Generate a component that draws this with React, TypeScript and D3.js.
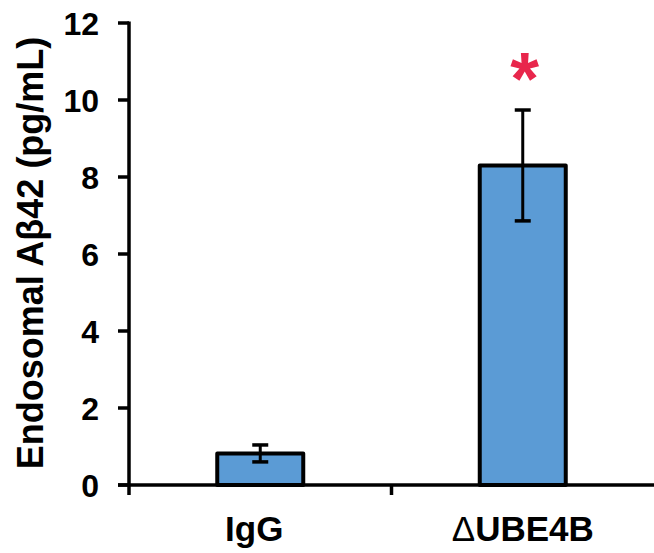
import React, { useEffect, useRef } from 'react';
import * as d3 from 'd3';

const categories = ['IgG', 'UBE4B'];
const means = [0.82, 8.3];
const errors = [0.22, 1.44];
const yTicks = [0, 2, 4, 6, 8, 10, 12];
const significant = [false, true];

const W = 654, H = 553;
const FONT = '"Liberation Sans", Arial, sans-serif';

export default function App() {
  const ref = useRef<SVGSVGElement>(null);

  useEffect(() => {
    const svg = d3.select(ref.current);
    svg.selectAll('*').remove();

    const x0 = 129, x1 = 654;
    const y0 = 485, y1 = 23;

    const x = d3.scaleBand().domain(categories).range([x0, x1]);
    const y = d3.scaleLinear().domain([0, 12]).range([y0, y1]);
    const barW = 86;
    const g = svg.append('g');

    // bars
    g.selectAll('rect.bar')
      .data(categories)
      .join('rect')
      .attr('class', 'bar')
      .attr('x', d => x(d)! + x.bandwidth() / 2 - barW / 2)
      .attr('y', (d, i) => y(means[i]))
      .attr('width', barW)
      .attr('height', (d, i) => y(0) - y(means[i]))
      .attr('fill', '#5b9bd5')
      .attr('stroke', '#000')
      .attr('stroke-width', 4)
      .attr('stroke-linejoin', 'round');

    // error bars
    categories.forEach((c, i) => {
      const cx = x(c)! + x.bandwidth() / 2;
      const lo = y(means[i] - errors[i]);
      const hi = y(means[i] + errors[i]);
      g.append('line').attr('x1', cx).attr('x2', cx).attr('y1', lo).attr('y2', hi)
        .attr('stroke', '#000').attr('stroke-width', 3);
      [lo, hi].forEach(yy => {
        g.append('line').attr('x1', cx - 8).attr('x2', cx + 8).attr('y1', yy).attr('y2', yy)
          .attr('stroke', '#000').attr('stroke-width', 3.5);
      });
      if (significant[i]) {
        g.append('text')
          .attr('x', cx + 2)
          .attr('y', hi - 6)
          .attr('text-anchor', 'middle')
          .attr('font-family', FONT)
          .attr('font-weight', 'bold')
          .attr('font-size', 74)
          .attr('fill', '#e8264c')
          .text('*');
      }
    });

    // y axis
    g.append('line').attr('x1', x0).attr('x2', x0).attr('y1', y1 - 1.5).attr('y2', y0 + 10)
      .attr('stroke', '#000').attr('stroke-width', 3.5);
    g.selectAll('line.ytick')
      .data(yTicks)
      .join('line')
      .attr('class', 'ytick')
      .attr('x1', x0 - 11).attr('x2', x0)
      .attr('y1', d => y(d)).attr('y2', d => y(d))
      .attr('stroke', '#000').attr('stroke-width', 3.5);
    g.selectAll('text.ylab')
      .data(yTicks)
      .join('text')
      .attr('class', 'ylab')
      .attr('x', 99)
      .attr('y', d => y(d))
      .attr('dy', '0.36em')
      .attr('text-anchor', 'end')
      .attr('font-family', FONT)
      .attr('font-weight', 'bold')
      .attr('font-size', 32)
      .text(d => d);

    // x axis
    g.append('line').attr('x1', x0 - 11).attr('x2', x1).attr('y1', y0).attr('y2', y0)
      .attr('stroke', '#000').attr('stroke-width', 3.5);
    g.append('line')
      .attr('x1', x(categories[1])!).attr('x2', x(categories[1])!)
      .attr('y1', y0).attr('y2', y0 + 10)
      .attr('stroke', '#000').attr('stroke-width', 3.5);

    // x labels
    const xl = g.selectAll('text.xlab')
      .data(categories)
      .join('text')
      .attr('class', 'xlab')
      .attr('x', d => x(d)! + x.bandwidth() / 2 - (d === 'IgG' ? 6 : 0))
      .attr('y', 541)
      .attr('text-anchor', 'middle')
      .attr('font-family', FONT)
      .attr('font-weight', 'bold')
      .attr('font-size', 35);
    xl.each(function (d) {
      const t = d3.select(this);
      if (d === 'UBE4B') {
        t.append('tspan').attr('font-weight', 'normal').text('Δ');
      }
      t.append('tspan').text(d);
    });

    // y title
    g.append('text')
      .attr('transform', 'translate(43,253) rotate(-90)')
      .attr('text-anchor', 'middle')
      .attr('font-family', FONT)
      .attr('font-weight', 'bold')
      .attr('font-size', 36)
      .text('Endosomal Aβ42 (pg/mL)');
  }, []);

  return (
    <svg ref={ref} width={W} height={H}
      style={{ position: 'absolute', left: 0, top: 0, background: '#fff' }} />
  );
}
